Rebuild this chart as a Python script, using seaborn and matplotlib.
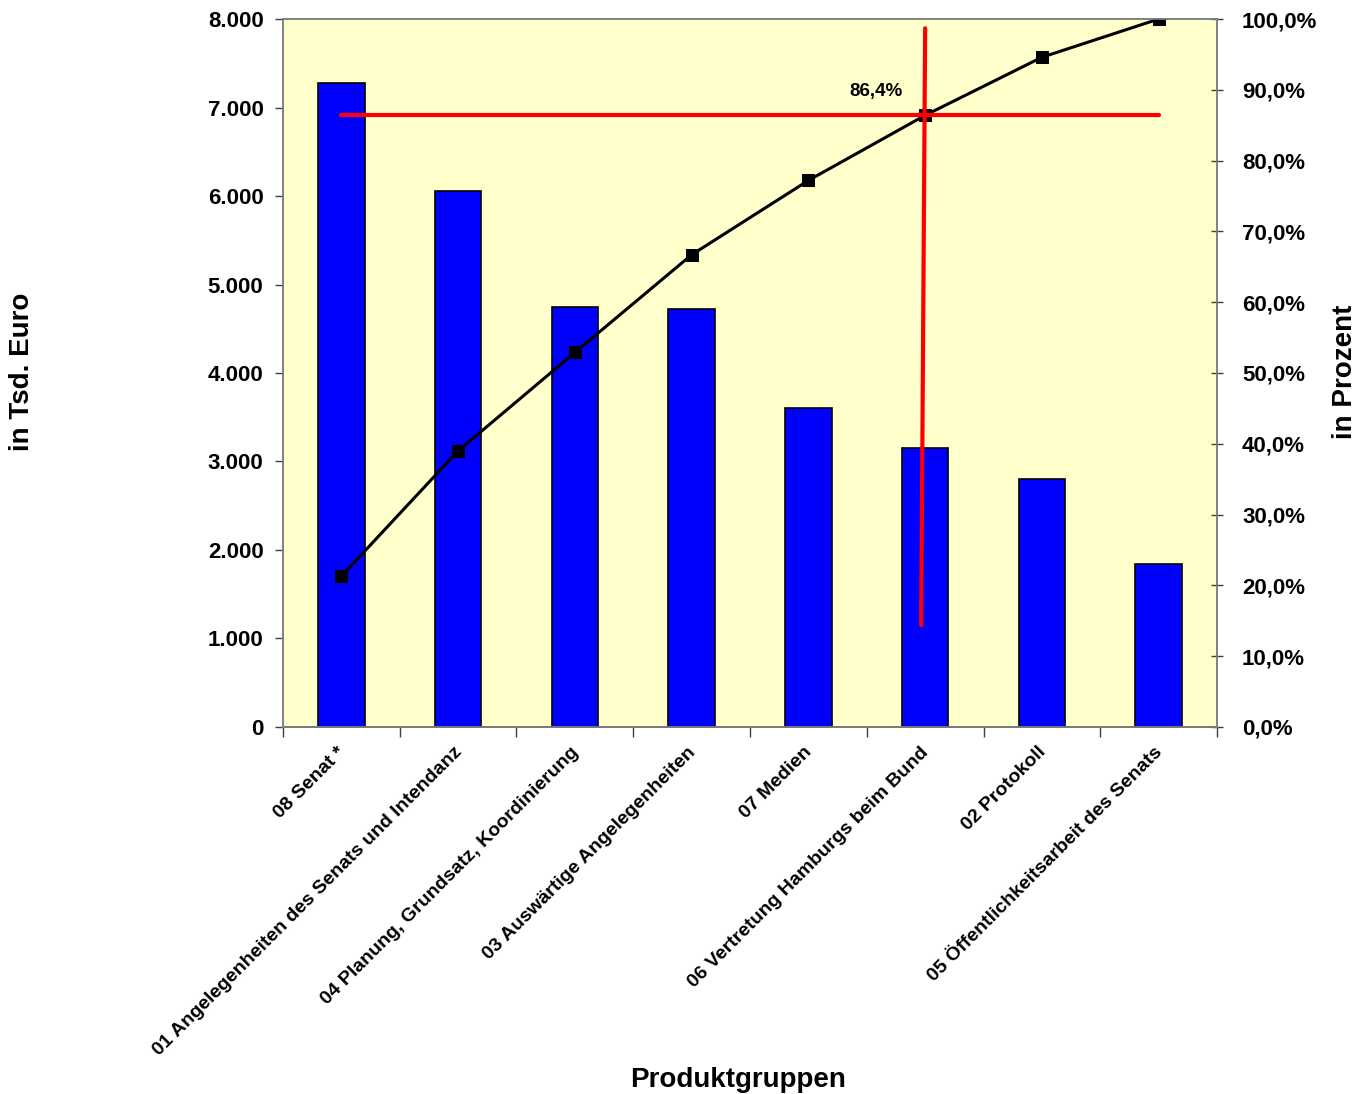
import seaborn as sns
import pandas as pd
import numpy as np
import matplotlib.pyplot as plt
import matplotlib.transforms as mtrans
from matplotlib.ticker import FuncFormatter

# Produktgruppen, sortiert nach Betrag (in Tsd. Euro)
produktgruppen = ['08 Senat *',
                  '01 Angelegenheiten des Senats und Intendanz',
                  '04 Planung, Grundsatz, Koordinierung',
                  '03 Auswärtige Angelegenheiten',
                  '07 Medien',
                  '06 Vertretung Hamburgs beim Bund',
                  '02 Protokoll',
                  '05 Öffentlichkeitsarbeit des Senats']
betrag = [7277, 6056, 4746, 4723, 3605, 3153, 2802, 1842]
kumuliert = [21.3, 39.0, 52.9, 66.7, 77.2, 86.4, 94.6, 100.0]
schwelle = 86.4

sns.set_style('ticks')
plt.rcParams['font.family'] = ['Liberation Sans', 'DejaVu Sans']
plt.rcParams['font.weight'] = 'bold'
plt.rcParams['text.color'] = 'black'
plt.rcParams['xtick.color'] = 'black'
plt.rcParams['ytick.color'] = 'black'
plt.rcParams['axes.labelcolor'] = 'black'

df = pd.DataFrame({'gruppe': produktgruppen, 'betrag': betrag,
                   'pos': np.arange(len(produktgruppen)), 'kum': kumuliert})

f = plt.figure(figsize=(13.71, 10.94), dpi=100)
ax = f.add_axes([0.2064, 0.3355, 0.6813, 0.6471])
ax.set_facecolor('#FFFFCC')
sns.barplot(data=df, x='gruppe', y='betrag', color='#0000FF', saturation=1,
            width=0.4, edgecolor='black', linewidth=1.2, ax=ax)
ax.set_xlim(-0.5, len(produktgruppen) - 0.5)
ax.set_ylim(0, 8000)
ax.set_yticks(np.arange(0, 8001, 1000))
ax.yaxis.set_major_formatter(FuncFormatter(lambda v, p: f'{int(v):,}'.replace(',', '.')))
ax.tick_params(axis='y', labelsize=16, length=6, width=1, color='#404040',
               labelcolor='black', pad=8)
ax.set_xticks(np.arange(len(produktgruppen)))
ax.set_xticks(np.arange(-0.5, len(produktgruppen)), minor=True)
ax.tick_params(axis='x', which='major', length=0, pad=12, labelcolor='black')
ax.tick_params(axis='x', which='minor', length=7, width=1, color='#404040')
ax.set_xticklabels(produktgruppen, rotation=45, ha='right', va='top',
                   rotation_mode='anchor', fontsize=14, fontweight='bold')
# labels sit a little left of the category centre
shift = mtrans.ScaledTranslation(-5 / 100, 0, f.dpi_scale_trans)
for lab in ax.get_xticklabels():
    lab.set_transform(lab.get_transform() + shift)
for lab in ax.get_yticklabels():
    lab.set_fontweight('bold')
for s in ax.spines.values():
    s.set_color('#808080')
    s.set_linewidth(1.2)
ax.spines['bottom'].set_color('#404040')
ax.set_xlabel('')
ax.set_ylabel('')
f.text(0.538, 0.013, 'Produktgruppen', fontsize=20, fontweight='bold',
       ha='center', va='center')
f.text(0.016, 0.66, 'in Tsd. Euro', rotation=90, fontsize=20, fontweight='bold',
       ha='center', va='center')

ax2 = ax.twinx()
sns.lineplot(data=df, x='pos', y='kum', color='black', linewidth=2.2,
             marker='s', markersize=9, markeredgecolor='black', ax=ax2)
ax2.plot([0, len(produktgruppen) - 1], [schwelle, schwelle], color='#FF0000', linewidth=3)
ax2.plot([5, 4.966], [98.7, 14.4], color='#FF0000', linewidth=3)
ax2.text(4.58, 89.8, '86,4%', fontsize=13.5, fontweight='bold', ha='center', va='center')
ax2.set_ylim(0, 100)
ax2.set_yticks(np.arange(0, 101, 10))
ax2.yaxis.set_major_formatter(FuncFormatter(lambda v, p: f'{v:.1f}%'.replace('.', ',')))
ax2.tick_params(axis='y', labelsize=16, length=8, width=1, color='#404040',
                direction='inout', labelcolor='black', pad=14)
for lab in ax2.get_yticklabels():
    lab.set_fontweight('bold')
ax2.set_ylabel('')
ax2.set_xlabel('')
for s in ax2.spines.values():
    s.set_color('#808080')
    s.set_linewidth(1.2)
f.text(0.981, 0.66, 'in Prozent', rotation=90, fontsize=20, fontweight='bold',
       ha='center', va='center')

f.savefig('out.png', dpi=100)
